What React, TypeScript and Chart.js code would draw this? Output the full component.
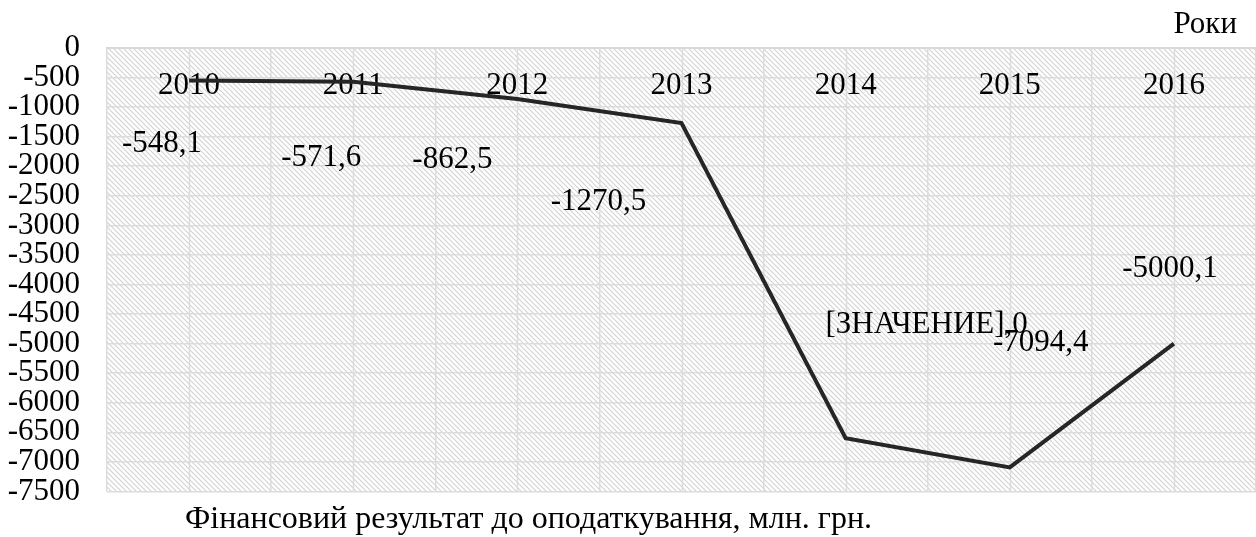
import React, { useEffect, useRef } from "react";
import { Chart, registerables } from "chart.js";

Chart.register(...registerables);

const years = ["2010", "2011", "2012", "2013", "2014", "2015", "2016"];
const values = [-548.1, -571.6, -862.5, -1270.5, -6600, -7094.4, -5000.1];
const labelOverrides: (string | null)[] = [null, null, null, null, "[ЗНАЧЕНИЕ],0", null, null];
const yMin = -7500;
const yMax = 0;
const yStep = 500;
const titleText = "Фінансовий результат до оподаткування, млн. грн.";
const axisTitle = "Роки";

// label offsets (pixels) relative to each point
const labelOffsets = [
  [-27, 63],
  [-32, 76],
  [-65, 61],
  [-83, 79],
  [81, -113],
  [31, -125],
  [-4, -75],
];

const FONT = "'Liberation Serif', 'Times New Roman', serif";
const FS = 31;
const TITLE_FS = 32;

function makePattern(ctx: CanvasRenderingContext2D) {
  const c = document.createElement("canvas");
  const s = 5;
  c.width = s;
  c.height = s;
  const p = c.getContext("2d")!;
  p.fillStyle = "#ffffff";
  p.fillRect(0, 0, s, s);
  p.strokeStyle = "#d2d2d2";
  p.lineWidth = 1.1;
  p.beginPath();
  p.moveTo(-1, -1);
  p.lineTo(s + 1, s + 1);
  p.moveTo(-1 - s, -1);
  p.lineTo(1, s + 1);
  p.moveTo(s - 1, -1);
  p.lineTo(2 * s + 1, s + 1);
  p.stroke();
  return ctx.createPattern(c, "repeat");
}

const decorPlugin = {
  id: "decor",
  beforeDraw(chart: any) {
    const { ctx, chartArea } = chart;
    ctx.save();
    ctx.fillStyle = "#ffffff";
    ctx.fillRect(0, 0, chart.width, chart.height);
    const pat = makePattern(ctx);
    if (pat) {
      ctx.fillStyle = pat;
      ctx.fillRect(chartArea.left, chartArea.top, chartArea.right - chartArea.left, chartArea.bottom - chartArea.top);
    }
    ctx.restore();
  },
  beforeDatasetsDraw(chart: any) {
    const { ctx, chartArea, scales } = chart;
    ctx.save();
    ctx.strokeStyle = "#dcdcdc";
    ctx.lineWidth = 1.5;
    for (let i = 0; i < years.length; i++) {
      const x = Math.round(scales.x.getPixelForValue(i)) + 0.5;
      ctx.beginPath();
      ctx.moveTo(x, chartArea.top);
      ctx.lineTo(x, chartArea.bottom);
      ctx.stroke();
    }
    ctx.restore();
  },
  afterDatasetsDraw(chart: any) {
    const { ctx, scales, chartArea } = chart;
    ctx.save();
    ctx.fillStyle = "#000000";
    ctx.font = `${FS}px ${FONT}`;
    ctx.textAlign = "center";
    ctx.textBaseline = "middle";
    values.forEach((v, i) => {
      const txt = labelOverrides[i] ?? v.toFixed(1).replace(".", ",");
      const x = scales.x.getPixelForValue(i) + labelOffsets[i][0];
      const y = scales.y.getPixelForValue(v) + labelOffsets[i][1];
      ctx.fillText(txt, x, y);
    });
    ctx.textAlign = "right";
    ctx.fillText(axisTitle, chartArea.right - 19, chartArea.top - 23);
    ctx.font = `${TITLE_FS}px ${FONT}`;
    ctx.textAlign = "left";
    ctx.fillText(titleText, chartArea.left + 78, chartArea.bottom + 28);
    ctx.restore();
  },
};

export default function App() {
  const ref = useRef<HTMLCanvasElement>(null);
  useEffect(() => {
    document.body.style.margin = "0";
    const chart = new Chart(ref.current!, {
      type: "line",
      data: {
        labels: years,
        datasets: [
          {
            data: values,
            borderColor: "#262626",
            borderWidth: 4,
            pointRadius: 0,
            borderJoinStyle: "miter",
            tension: 0,
          },
        ],
      },
      plugins: [decorPlugin],
      options: {
        animation: false,
        responsive: false,
        maintainAspectRatio: false,
        layout: { padding: { top: 48, bottom: 42, left: 0, right: 0 } },
        plugins: { legend: { display: false }, tooltip: { enabled: false }, title: { display: false } },
        scales: {
          x: {
            type: "category",
            position: { y: 0 } as any,
            offset: true,
            grid: { offset: true, color: "#dcdcdc", lineWidth: 1.5, drawTicks: false },
            border: { display: true, color: "#d9d9d9", width: 2 },
            ticks: {
              color: "#000",
              font: { family: FONT, size: FS },
              padding: 19,
              autoSkip: false,
              maxRotation: 0,
            },
          },
          y: {
            min: yMin,
            max: yMax,
            grid: { color: "#dcdcdc", lineWidth: 1.5, drawTicks: false },
            border: { display: false },
            afterFit: (s: any) => {
              s.width = 107;
            },
            ticks: {
              stepSize: yStep,
              color: "#000",
              font: { family: FONT, size: FS },
              padding: 27,
              autoSkip: false,
              callback: (v: any) => String(v),
            },
          },
        },
      },
    });
    return () => chart.destroy();
  }, []);
  return <canvas ref={ref} width={1256} height={537} style={{ display: "block" }} />;
}
